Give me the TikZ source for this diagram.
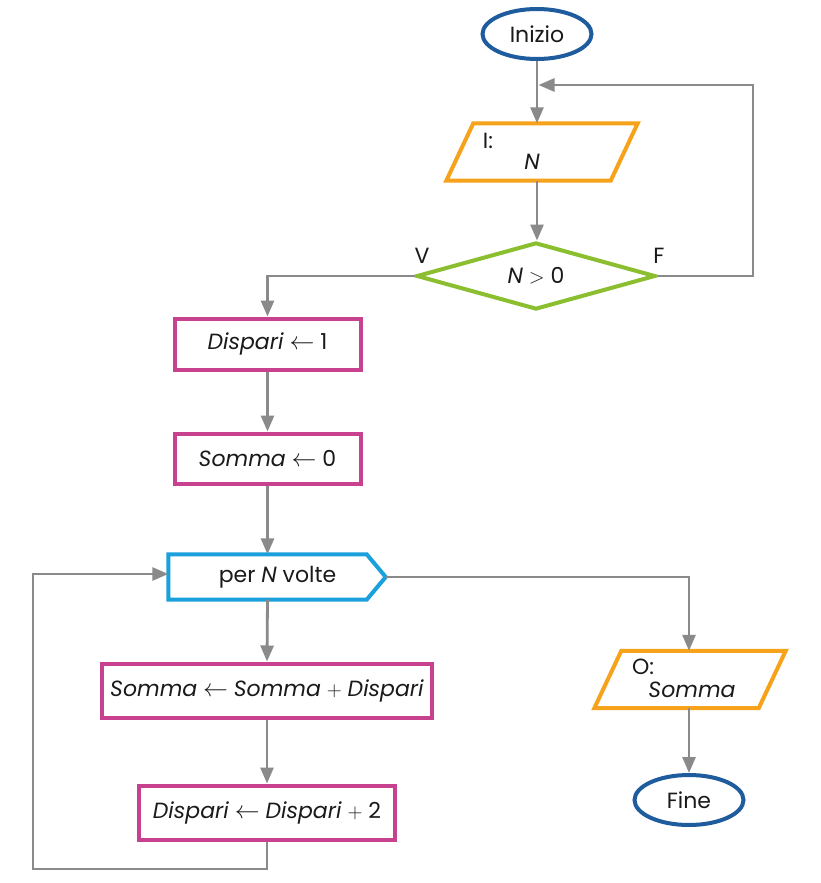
\documentclass[tikz,border=0pt]{standalone}
\usepackage{fontspec}
\setmainfont{Poppins}
\usetikzlibrary{shapes.geometric,arrows.meta,calc}
\definecolor{cblue}{HTML}{1F5C9E}
\definecolor{corange}{HTML}{F7A21B}
\definecolor{cgreen}{HTML}{8BBF30}
\definecolor{cmag}{HTML}{C8418E}
\definecolor{ccyan}{HTML}{1AA0DC}
\definecolor{cgray}{HTML}{8A8A8A}
\definecolor{txt}{HTML}{1A1A1A}
\newcommand{\assignarrow}{\mathrel{\scalebox{1.2}{$\leftarrow$}}}
\begin{document}
\begin{tikzpicture}[x=1pt,y=-1pt,
  font=\fontsize{22}{26}\selectfont,
  every node/.style={text=txt},
  term/.style={ellipse,draw=cblue,line width=4pt,minimum width=109pt,minimum height=50pt,inner sep=0pt},
  iobox/.style={rectangle,inner sep=0pt,minimum width=164pt,minimum height=57pt},
  ioline/.style={draw=corange,line width=4pt,line join=miter},
  proc/.style={rectangle,draw=cmag,line width=4pt,inner sep=0pt},
  cond/.style={diamond,aspect=3.5,draw=cgreen,line width=4pt,inner sep=1pt,minimum width=239pt,minimum height=67pt},
  conn/.style={draw=cgray,line width=2.8pt},
  arr/.style={conn,-{Triangle[length=16pt,width=13pt]}},
  lbl/.style={inner sep=0pt}
]
\useasboundingbox[fill=white] (0,0) rectangle (820,883);

% nodes
\node[term] (start) at (537,34) {Inizio};
\node[iobox] (in) at (542,152) {};
\draw[ioline] ($(in.north west)+(13.5,0)$) -- ($(in.north east)+(13.5,0)$) -- ($(in.south east)+(-13.5,0)$) -- ($(in.south west)+(-13.5,0)$) -- cycle;
\node[lbl] (inI) at ($(in.center)+(-54,-11)$) {I:};
\node[lbl] (inN) at ($(in.center)+(-10,10)$) {\textit{N}};
\node[cond] (cond) at (536,276) {\textit{N} $>$ 0};
\node[lbl] (lv) at (422,256) {V};
\node[lbl] (lf) at (659,256) {F};
\node[proc,minimum width=186pt,minimum height=51pt] (b1) at (267.5,344) {\textit{Dispari} $\assignarrow$ 1};
\node[proc,minimum width=186pt,minimum height=50pt] (b2) at (267.5,458.5) {\textit{Somma} $\assignarrow$ 0};
\node[inner sep=0pt,minimum width=198pt,minimum height=45pt] (loop) at (267.5,577) {};
\coordinate (tip) at ($(loop.east)+(19,0)$);
\draw[draw=ccyan,line width=4pt,line join=miter] (loop.north west) -- (loop.north east) -- (tip) -- (loop.south east) -- (loop.south west) -- cycle;
\node[lbl] (looptxt) at ($(loop.center)+(10,0)$) {per \textit{N} volte};
\node[proc,minimum width=330pt,minimum height=54pt] (b3) at (267,690.5) {\textit{Somma} $\assignarrow$ \textit{Somma} $+$ \textit{Dispari}};
\node[proc,minimum width=256pt,minimum height=54pt] (b4) at (267,812.5) {\textit{Dispari} $\assignarrow$ \textit{Dispari} $+$ 2};
\node[iobox] (out) at (690,679.5) {};
\draw[ioline] ($(out.north west)+(13.5,0)$) -- ($(out.north east)+(13.5,0)$) -- ($(out.south east)+(-13.5,0)$) -- ($(out.south west)+(-13.5,0)$) -- cycle;
\node[lbl] (outO) at ($(out.center)+(-47,-13)$) {O:};
\node[lbl] (outS) at ($(out.center)+(2,10)$) {\textit{Somma}};
\node[term] (fine) at (689,800) {Fine};

% coordinates for loops
\coordinate (topy) at (753,85);
\coordinate (lb) at (33,869);
\coordinate (lt) at (33,574);

% connectors
\draw[arr] (start.south) -- (start.south |- in.north);
\draw[arr] (start.south |- in.south) -- (start.south |- cond.north);
\draw[arr] (cond.east) -| (topy) -- ($(topy -| start.south)+(1.5,0)$);
\draw[arr] (cond.west) -| (b1.north);
\draw[arr] (b1.south) -- (b2.north);
\draw[arr] (b2.south) -- (loop.north);
\draw[arr] (loop.south) -- (b3.north);
\draw[arr] (b3.south) -- (b4.north);
\draw[arr] (b4.south) |- (lb) -- (lt) -- (lt -| loop.west);
\draw[arr] (tip) -| (fine.north |- out.north);
\draw[arr] (fine.north |- out.south) -- (fine.north);
\end{tikzpicture}
\end{document}
